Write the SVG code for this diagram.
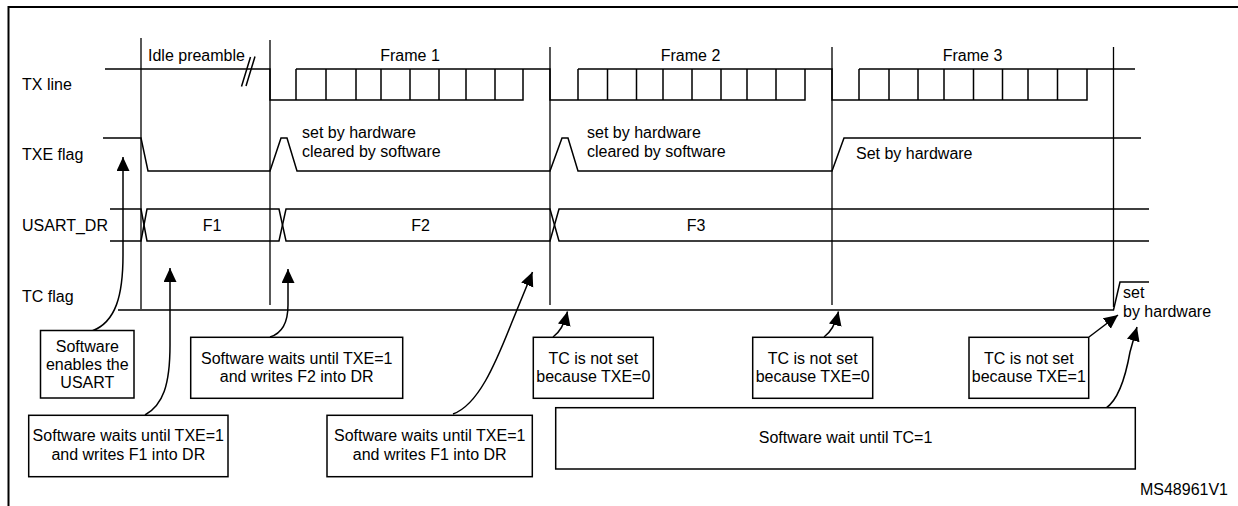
<svg xmlns="http://www.w3.org/2000/svg" width="1238" height="506" viewBox="0 0 1238 506">
<style>
text{font-family:"Liberation Sans",Arial,sans-serif;font-size:16px;fill:#000}
.c{text-anchor:middle}
.sig{fill:none;stroke:#000;stroke-width:1.5}
.guide{fill:none;stroke:#000;stroke-width:1.3}
.box{fill:#fff;stroke:#000;stroke-width:1.5}
.arr{fill:none;stroke:#000;stroke-width:1.5;marker-end:url(#ah)}
</style>
<defs>
<marker id="ah" markerUnits="userSpaceOnUse" markerWidth="15" markerHeight="14" refX="14" refY="6.5" orient="auto" viewBox="0 0 15 14">
<path d="M0,0 L14,6.5 L0,13 z" fill="#000"/>
</marker>
</defs>
<rect width="1238" height="506" fill="#fff"/>
<path d="M8.5 506 V7 H1238" fill="none" stroke="#000" stroke-width="2"/>

<g id="labels">
<text x="22" y="89.5">TX line</text>
<text x="22" y="159.5">TXE flag</text>
<text x="22" y="230.5">USART_DR</text>
<text x="22" y="301.5">TC flag</text>
</g>

<g id="guides">
<path class="guide" d="M141 38 V309 M270 40 V305 M550 47 V305 M832 47 V305 M1113.5 47 V307"/>
</g>

<g id="tx-line">
<path class="sig" d="M105 69 H270 V100 H523 V69 M296 69 H550 V100 H805 V69 M578 69 H832 V100 H1087 V69 M859 69 H1135"/>
<path class="sig" d="M296 69 V100 M326 69 V100 M356 69 V100 M381 69 V100 M410 69 V100 M439 69 V100 M466 69 V100 M495 69 V100"/>
<path class="sig" d="M578 69 V100 M607.5 69 V100 M636.5 69 V100 M663 69 V100 M692 69 V100 M721 69 V100 M747 69 V100 M776 69 V100"/>
<path class="sig" d="M859 69 V100 M889 69 V100 M918 69 V100 M944 69 V100 M973.5 69 V100 M1002.5 69 V100 M1028 69 V100 M1057.5 69 V100"/>
<path class="sig" d="M241.5 86.5 L250.5 57 M246 86 L255 56.5"/>
<text x="148" y="60.5">Idle preamble</text>
<text class="c" x="410" y="60.5">Frame 1</text>
<text class="c" x="690.5" y="60.5">Frame 2</text>
<text class="c" x="972.5" y="60.5">Frame 3</text>
</g>

<g id="txe-flag">
<path class="sig" d="M103 138 H141 L148 171 H270 L281 138 H287 L297 171 H550 L562 138 H568 L578 171 H832 L844 138 H1141"/>
<text x="302" y="138">set by hardware</text>
<text x="302" y="157">cleared by software</text>
<text x="587" y="138">set by hardware</text>
<text x="587" y="157">cleared by software</text>
<text x="856" y="158.5">Set by hardware</text>
</g>

<g id="usart-dr">
<path class="sig" d="M110 209 H141 L147 241 H279 L286 209 H550 L559 241 H1149"/>
<path class="sig" d="M110 241 H141 L147 209 H279 L286 241 H550 L559 209 H1149"/>
<text class="c" x="212" y="230.5">F1</text>
<text class="c" x="420.5" y="230.5">F2</text>
<text class="c" x="696" y="230.5">F3</text>
</g>

<g id="tc-flag">
<path class="sig" d="M118 310 H1113.5 L1120 282 H1149"/>
<text x="1123" y="298">set</text>
<text x="1123" y="317">by hardware</text>
</g>

<g id="connectors">
<path class="arr" d="M92 331 C116 322 123 295 123 255 L123 157"/>
<path class="arr" d="M145 415 C163 405 170 385 170 345 L170 268"/>
<path class="arr" d="M270 337 C283 333 288 322 288 305 L288 269"/>
<path class="arr" d="M453 414 C478 405 495 365 512 322 L532.5 272"/>
<path class="arr" d="M553 337 Q563 330 567.5 311.5"/>
<path class="arr" d="M824 337 Q834 330 838.5 311.5"/>
<path class="arr" d="M1089 337 L1118 315"/>
<path class="arr" d="M1106 408 C1118 400 1125 380 1130 352 L1137 327"/>
</g>

<g id="box-enable">
<rect class="box" x="40.5" y="330.5" width="93.5" height="67.5"/>
<text class="c" x="87.3" y="351.5">Software</text>
<text class="c" x="87.3" y="369.8">enables the</text>
<text class="c" x="87.3" y="388">USART</text>
</g>

<g id="box-f1a">
<rect class="box" x="28.7" y="415.3" width="199.3" height="61.4"/>
<text class="c" x="128.3" y="441.3">Software waits until TXE=1</text>
<text class="c" x="128.3" y="460">and writes F1 into DR</text>
</g>

<g id="box-f2">
<rect class="box" x="190.7" y="337.3" width="212" height="61"/>
<text class="c" x="296.7" y="364.3">Software waits until TXE=1</text>
<text class="c" x="296.7" y="382.3">and writes F2 into DR</text>
</g>

<g id="box-f1b">
<rect class="box" x="327" y="415.3" width="205.3" height="61.4"/>
<text class="c" x="429.7" y="441.3">Software waits until TXE=1</text>
<text class="c" x="429.7" y="460">and writes F1 into DR</text>
</g>

<g id="box-tc1">
<rect class="box" x="533.3" y="337.3" width="120" height="61"/>
<text class="c" x="593.3" y="364.3">TC is not set</text>
<text class="c" x="593.3" y="382.3">because TXE=0</text>
</g>

<g id="box-tc2">
<rect class="box" x="752.7" y="337.3" width="120" height="61"/>
<text class="c" x="812.7" y="364.3">TC is not set</text>
<text class="c" x="812.7" y="382.3">because TXE=0</text>
</g>

<g id="box-tc3">
<rect class="box" x="969" y="337.3" width="119.7" height="61"/>
<text class="c" x="1028.8" y="364.3">TC is not set</text>
<text class="c" x="1028.8" y="382.3">because TXE=1</text>
</g>

<g id="box-wait">
<rect class="box" x="555.7" y="407.7" width="579.6" height="61.3"/>
<text class="c" x="845.5" y="443.3">Software wait until TC=1</text>
</g>

<text x="1228" y="495" text-anchor="end">MS48961V1</text>
</svg>
